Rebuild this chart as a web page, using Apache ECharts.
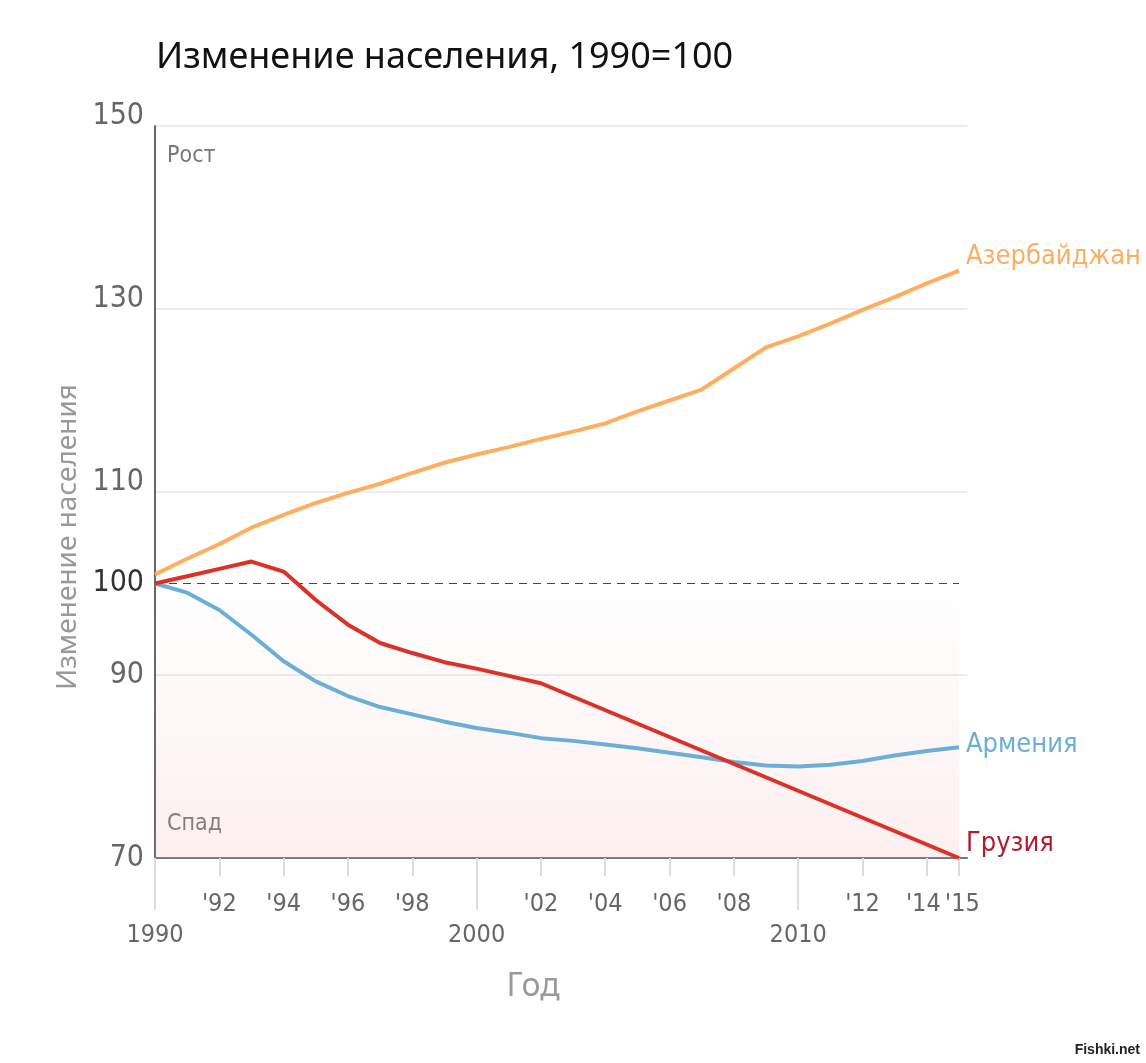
<!DOCTYPE html>
<html><head><meta charset="utf-8">
<script src="https://cdn.jsdelivr.net/npm/echarts@6/dist/echarts.min.js"></script>
<style>html,body{margin:0;padding:0;background:#fff}#c{width:1146px;height:1063px}</style>
</head><body><div id="c"></div>
<script>
const years = ['1990','1991','1992','1993','1994','1995','1996','1997','1998','1999','2000','2001','2002','2003','2004','2005','2006','2007','2008','2009','2010','2011','2012','2013','2014','2015'];
const azerbaijan = [101.0,102.7,104.3,106.1,107.5,108.8,109.9,110.9,112.1,113.2,114.1,114.9,115.8,116.6,117.5,118.8,120.0,121.2,123.5,125.8,127.0,128.4,129.9,131.3,132.8,134.2];
const armenia = [100,99.0,97.1,94.4,91.5,89.3,87.7,86.5,85.7,84.9,84.2,83.7,83.1,82.8,82.4,82.0,81.5,81.0,80.5,80.1,80.0,80.2,80.6,81.2,81.7,82.1];
const georgia = [100,100.8,101.6,102.4,101.3,98.2,95.5,93.5,92.4,91.4,90.7,89.9,89.1,null,null,null,null,null,null,null,null,null,null,null,null,70];
const seriesNames = ['Азербайджан','Армения','Грузия'];
const yTickLabels = [70,90,100,110,130,150];
const shortTickYears = ['1992','1994','1996','1998','2002','2004','2006','2008','2012','2014','2015'];
const longTickYears = ['1990','2000','2010'];

const cond = "'Liberation Sans Narrow','DejaVu Sans Condensed','Arial Narrow',sans-serif";
const human = "'Noto Sans','Open Sans',sans-serif";
const tickFont = {fontSize:25, color:'#666', fontFamily:cond};

const chart = echarts.init(document.getElementById('c'), null, {renderer:'canvas'});
chart.setOption({
  animation:false,
  backgroundColor:'#ffffff',
  title:{text:'Изменение населения, 1990=100', left:151, top:35,
    textStyle:{fontFamily:human, fontSize:36, fontWeight:'normal', color:'#111'}},
  grid:[
    {left:155, right:187, top:126, bottom:205},
    {left:155, right:179, top:126, bottom:205}
  ],
  xAxis:[
    {type:'category', gridIndex:0, data:years, boundaryGap:false, position:'bottom',
      axisLine:{show:false},
      axisTick:{show:true, length:18, interval:(i,v)=>shortTickYears.includes(v), lineStyle:{color:'#dcdcdc', width:2}},
      axisLabel:Object.assign({interval:0, margin:34, hideOverlap:false,
        formatter:(v,i)=>{
          if(!shortTickYears.includes(v)) return '';
          const t = "'"+v.slice(2);
          if(i===years.length-1) return '{r|'+t+'}';
          if(i===years.length-2) return '{l|'+t+'}';
          return t;
        },
        rich:{l:Object.assign({padding:[0,7,0,0]}, tickFont), r:Object.assign({padding:[0,0,0,7]}, tickFont)}
      }, tickFont),
      splitLine:{show:false},
      name:'Год', nameLocation:'middle', nameGap:113,
      nameTextStyle:{fontFamily:human, fontSize:32, color:'#999', padding:[0,48,0,0]}},
    {type:'category', gridIndex:0, data:years, boundaryGap:false, position:'bottom',
      axisLine:{show:false},
      axisTick:{show:true, length:52, interval:(i,v)=>longTickYears.includes(v), lineStyle:{color:'#dcdcdc', width:2}},
      axisLabel:Object.assign({interval:0, formatter:v=>longTickYears.includes(v) ? v : '', margin:65}, tickFont),
      splitLine:{show:false}},
    {type:'value', gridIndex:1, min:0, max:1, position:'bottom',
      axisLine:{show:true, lineStyle:{color:'#777', width:2}},
      axisTick:{show:false}, axisLabel:{show:false}, splitLine:{show:false}}
  ],
  yAxis:[
    {type:'value', gridIndex:0, min:70, max:150, interval:10,
      axisLine:{show:true, lineStyle:{color:'#333', width:1.5}},
      axisTick:{show:false}, axisLabel:{show:false}, splitLine:{show:false}},
    {type:'value', gridIndex:1, min:70, max:150, interval:10,
      axisLine:{show:false}, axisTick:{show:false},
      axisLabel:{margin:11,
        formatter:v=>{ if(!yTickLabels.includes(v)) return ''; if(v===100) return '{d|100}'; if(v>100) return '{u|'+v+'}'; return '{n|'+v+'}'; },
        rich:{
          d:{color:'#333', fontSize:30, fontFamily:cond},
          u:{color:'#666', fontSize:30, fontFamily:cond, padding:[0,0,20,0]},
          n:{color:'#666', fontSize:30, fontFamily:cond}
        }},
      splitLine:{show:true, lineStyle:{color:['#e6e6e6','rgba(0,0,0,0)'], width:1.5}},
      name:'Изменение населения', nameLocation:'middle', nameRotate:90, nameGap:62,
      nameTextStyle:{fontFamily:human, fontSize:28, color:'#999', padding:[0,90,0,0]}}
  ],
  graphic:[
    {type:'text', left:167, top:145, style:{text:'Рост', font:"23px "+cond, fill:'#777'}},
    {type:'text', left:167, top:813, style:{text:'Спад', font:"23px "+cond, fill:'#777'}},
    {type:'text', right:6, bottom:6, style:{text:'Fishki.net', font:"bold 14px 'Liberation Sans',sans-serif", fill:'#222'}}
  ],
  series:[
    {type:'line', name:seriesNames[0], xAxisIndex:0, yAxisIndex:0, data:azerbaijan, symbol:'none', z:3,
      lineStyle:{color:'#fdae61', width:4}, itemStyle:{color:'#fdae61'},
      endLabel:{show:true, formatter:'{a}', color:'#fdae61', fontSize:27, fontFamily:cond, distance:7, offset:[0,-14]}},
    {type:'line', name:seriesNames[1], xAxisIndex:0, yAxisIndex:0, data:armenia, symbol:'none', z:4,
      lineStyle:{color:'#6baed6', width:4}, itemStyle:{color:'#6baed6'},
      endLabel:{show:true, formatter:'{a}', color:'#6baed6', fontSize:27, fontFamily:cond, distance:7, offset:[0,-2]}},
    {type:'line', name:seriesNames[2], xAxisIndex:0, yAxisIndex:0, data:georgia, symbol:'none', connectNulls:true, z:5,
      lineStyle:{color:'#dc3127', width:4}, itemStyle:{color:'#dc3127'},
      endLabel:{show:true, formatter:'{a}', color:'#b01c2e', fontSize:27, fontFamily:cond, distance:7, offset:[0,-14]},
      markArea:{silent:true,
        itemStyle:{color:{type:'linear', x:0, y:0, x2:0, y2:1,
          colorStops:[{offset:0, color:'rgba(240,150,150,0.0)'},{offset:1, color:'rgba(240,150,150,0.15)'}]}},
        data:[[{xAxis:'1990', yAxis:100},{xAxis:'2015', yAxis:70}]]},
      markLine:{silent:true, symbol:'none', label:{show:false},
        lineStyle:{color:'#444', type:[8,6], width:1},
        data:[{yAxis:100}]}}
  ]
});
</script>
</body></html>
